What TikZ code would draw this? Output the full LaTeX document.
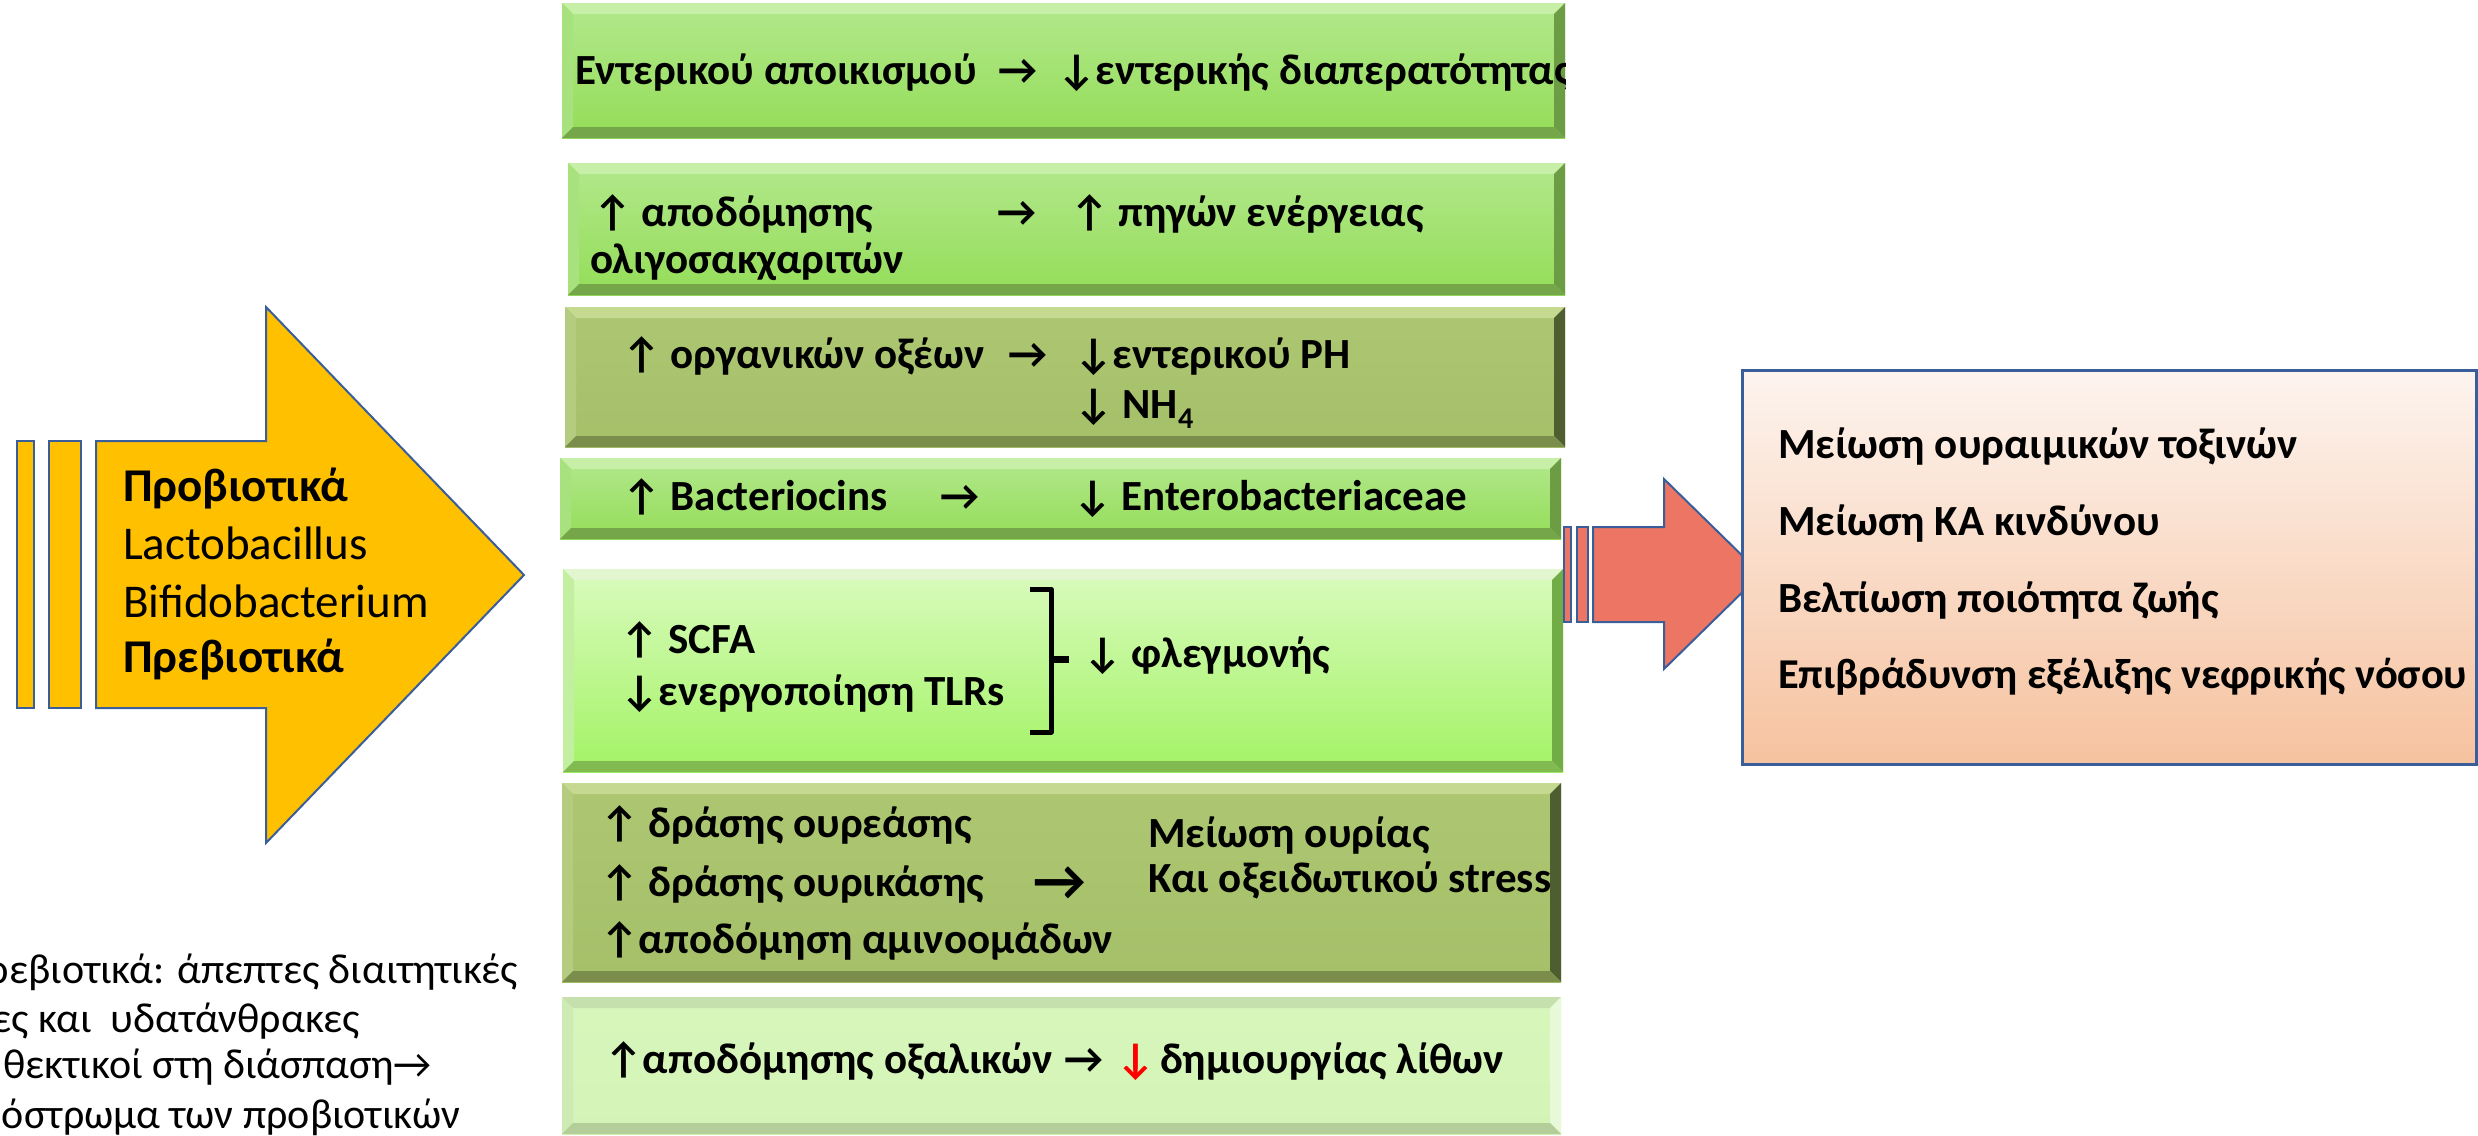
\documentclass[tikz,border=0pt]{standalone}
\usepackage{fontspec}
\setmainfont{Carlito}
\definecolor{yel}{HTML}{FFC000}
\definecolor{bord}{HTML}{3A5E9A}
\definecolor{coral}{HTML}{EC7564}
\definecolor{ortop}{HTML}{FDF4EF}
\definecolor{orbot}{HTML}{F6C29F}
% bright green
\definecolor{gra}{HTML}{B2E88C}
\definecolor{grm}{HTML}{A2E46E}
\definecolor{grb}{HTML}{94DD58}
\definecolor{grt}{HTML}{C8EFA8}
\definecolor{grl}{HTML}{A8E27E}
\definecolor{grr}{HTML}{6C9C44}
\definecolor{grd}{HTML}{76A64A}
% olive
\definecolor{ola}{HTML}{ADC672}
\definecolor{olm}{HTML}{A9C36D}
\definecolor{olb}{HTML}{A5C069}
\definecolor{olt}{HTML}{C5D991}
\definecolor{oll}{HTML}{B4CB80}
\definecolor{olr}{HTML}{4F5E30}
\definecolor{old}{HTML}{7A8D4B}
% light to green
\definecolor{lga}{HTML}{DAFBBE}
\definecolor{lgm}{HTML}{B4F682}
\definecolor{lgb}{HTML}{A2F364}
\definecolor{lgt}{HTML}{E2F7D0}
\definecolor{lgl}{HTML}{C2EFA0}
\definecolor{lgr}{HTML}{72AC46}
\definecolor{lgd}{HTML}{82BA52}
% pale
\definecolor{pla}{HTML}{D7F6BB}
\definecolor{plm}{HTML}{D6F5BA}
\definecolor{plb}{HTML}{D4F4B7}
\definecolor{plt}{HTML}{C6E0AD}
\definecolor{pll}{HTML}{CDEBB2}
\definecolor{plr}{HTML}{E8F9DA}
\definecolor{pld}{HTML}{B4CE9A}
\def\bw{11}
\newcommand\bevelbox[5]{%
 \fill[top color=#5a, middle color=#5m, bottom color=#5b] (#1,#2) rectangle (#3,#4);
 \fill[#5t] (#1,#2) -- (#3,#2) -- ({#3-\bw},{#2+\bw}) -- ({#1+\bw},{#2+\bw}) -- cycle;
 \fill[#5l] (#1,#2) -- ({#1+\bw},{#2+\bw}) -- ({#1+\bw},{#4-\bw}) -- (#1,#4) -- cycle;
 \fill[#5r] (#3,#2) -- ({#3-\bw},{#2+\bw}) -- ({#3-\bw},{#4-\bw}) -- (#3,#4) -- cycle;
 \fill[#5d] (#1,#4) -- ({#1+\bw},{#4-\bw}) -- ({#3-\bw},{#4-\bw}) -- (#3,#4) -- cycle;
}
\begin{document}
\begin{tikzpicture}[x=1pt,y=-1pt,
  txt/.style={anchor=base west,inner sep=0pt,outer sep=0pt},
  bt/.style={txt,font=\fontsize{43}{50}\selectfont\bfseries},
  yt/.style={txt,font=\fontsize{47}{58}\selectfont},
  nt/.style={anchor=base east,inner sep=0pt,outer sep=0pt,font=\fontsize{42}{48}\selectfont},
  big/.style={txt,font=\fontsize{58}{60}\selectfont\bfseries},
  shp/.style={draw=bord,line width=2pt,line join=miter}]
\useasboundingbox (0,0) rectangle (2478,1135);

% ---------- yellow arrow ----------
\draw[shp,fill=yel] (17,441) rectangle (34,708);
\draw[shp,fill=yel] (49,441) rectangle (81,708);
\draw[shp,fill=yel] (96,441) -- (266,441) -- (266,307) -- (524,575) -- (266,843) -- (266,708) -- (96,708) -- cycle;
\node[yt,font=\fontsize{47}{58}\selectfont\bfseries] (pro) at (123,501) {Προβιοτικά};
\node[yt] (lac) at (123,559) {Lactobacillus};
\node[yt] (bif) at (123,617) {Bifidobacterium};
\node[yt,font=\fontsize{47}{58}\selectfont\bfseries] (pre) at (123,672) {Πρεβιοτικά};

% ---------- bottom-left note ----------
\node[nt] (n1) at (518,983) {ρεβιοτικά: άπεπτες διαιτητικές};
\node[nt] (n2) at (360,1032) {ες και~ υδατάνθρακες};
\node[nt] (n3) at (432,1078) {θεκτικοί στη διάσπαση→};
\node[nt] (n4) at (460,1128) {όστρωμα των προβιοτικών};

% ---------- green boxes ----------
\bevelbox{562}{3}{1565}{138}{gr}
\bevelbox{568}{163}{1565}{295}{gr}
\bevelbox{565}{307}{1565}{447}{ol}
\bevelbox{560}{458}{1561}{539}{gr}
\bevelbox{563}{569}{1563}{772}{lg}
\bevelbox{562}{783}{1561}{982}{ol}
\bevelbox{562}{997}{1561}{1134}{pl}

% box 1
\begin{scope}
\clip (562,3) rectangle (1565,138);
\node[bt] (b1a) at (575,84) {Εντερικού αποικισμού};
\node[bt] (b1b) at (998,84) {→};
\node[bt] (b1c) at (1057,84) {↓εντερικής διαπερατότητας};
\end{scope}
% box 2
\node[bt] (b2a) at (593,226) {↑ αποδόμησης};
\node[bt] (b2b) at (590,273) {ολιγοσακχαριτών};
\node[bt] (b2c) at (997,226) {→};
\node[bt] (b2d) at (1070,226) {↑ πηγών ενέργειας};
% box 3
\node[bt] (b3a) at (622,368) {↑ οργανικών οξέων};
\node[bt] (b3b) at (1008,368) {→};
\node[bt] (b3c) at (1074,368) {↓εντερικού PH};
\node[bt] (b3d) at (1074,418) {↓ NH\textsubscript{4}};
% box 4
\node[bt] (b4a) at (622,510) {↑ Bacteriocins};
\node[bt] (b4b) at (940,510) {→};
\node[bt] (b4c) at (1073,510) {↓ Enterobacteriaceae};
% box 5
\node[bt] (b5a) at (620,653) {↑ SCFA};
\node[bt] (b5b) at (620,705) {↓ενεργοποίηση TLRs};
\draw[line width=5pt,line join=round] (1030,589) -- (1051,589) -- (1051,732) -- (1030,732);
\draw[line width=7pt] (1049,659) -- (1069,659);
\node[bt] (b5c) at (1083,667) {↓ φλεγμονής};
% box 6
\node[bt] (b6a) at (600,837) {↑ δράσης ουρεάσης};
\node[bt] (b6b) at (600,896) {↑ δράσης ουρικάσης};
\node[bt] (b6c) at (600,953) {↑αποδόμηση αμινοομάδων};
\node[big] (b6d) at (1033,900) {→};
\node[bt] (b6e) at (1148,847) {Μείωση ουρίας};
\node[bt] (b6f) at (1148,892) {Και οξειδωτικού stress};
% box 7
\node[bt] (b7a) at (604,1073) {↑αποδόμησης οξαλικών};
\node[bt] (b7b) at (1064,1073) {→};
\node[bt,text=red] (b7c) at (1116,1073) {↓};
\node[bt] (b7d) at (1160,1073) {δημιουργίας λίθων};

% ---------- red arrow ----------
\draw[shp,fill=coral] (1564,527) rectangle (1571,622);
\draw[shp,fill=coral] (1577,527) rectangle (1588,622);
\draw[shp,fill=coral] (1593,527) -- (1664,527) -- (1664,479) -- (1761,574) -- (1664,669) -- (1664,622) -- (1593,622) -- cycle;

% ---------- result box ----------
\draw[draw=bord,line width=3pt,top color=ortop,bottom color=orbot] (1742,370) rectangle (2476,764);
\node[bt] (r1) at (1778,458) {Μείωση ουραιμικών τοξινών};
\node[bt] (r2) at (1778,535) {Μείωση ΚΑ κινδύνου};
\node[bt] (r3) at (1778,612) {Βελτίωση ποιότητα ζωής};
\node[bt,font=\fontsize{42.5}{50}\selectfont\bfseries] (r4) at (1778,688) {Επιβράδυνση εξέλιξης νεφρικής νόσου};
\end{tikzpicture}
\end{document}
